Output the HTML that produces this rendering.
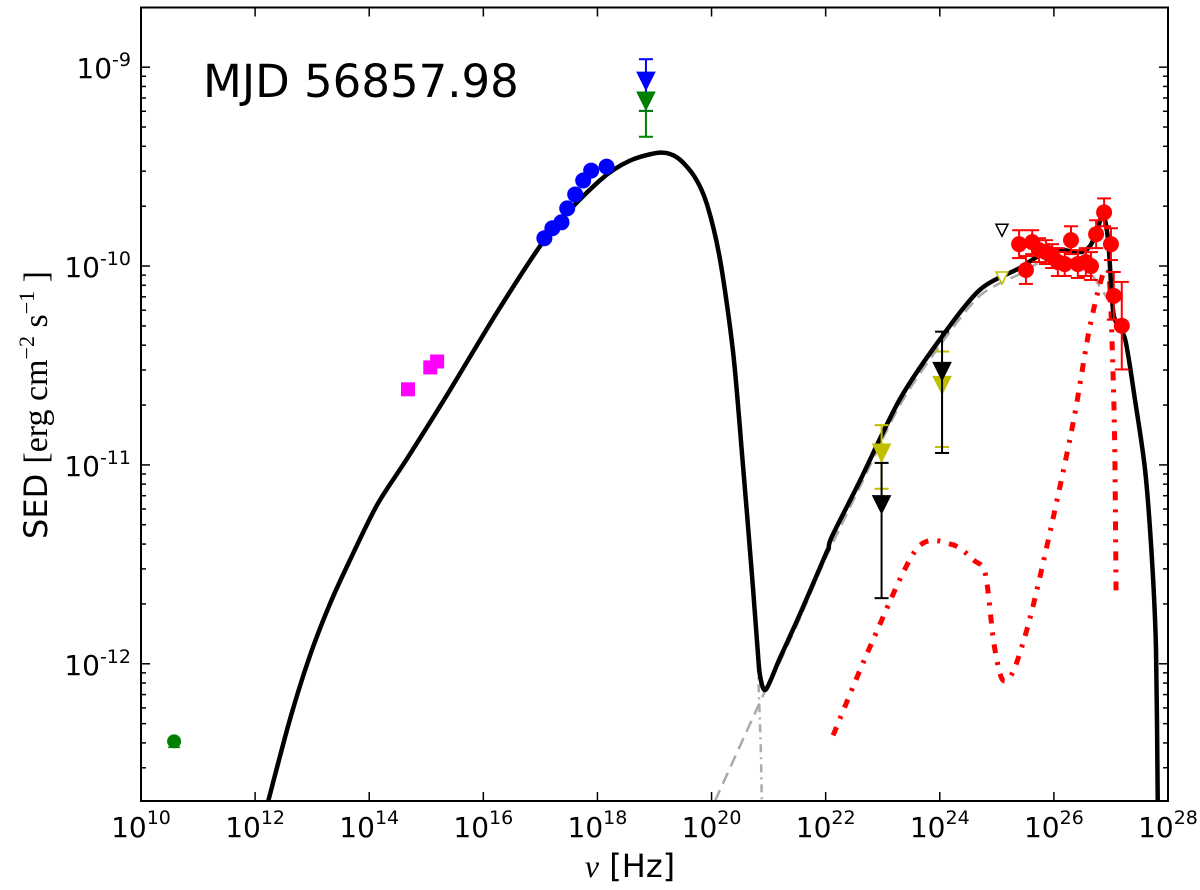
<!DOCTYPE html>
<html><head><meta charset="utf-8"><style>
body{margin:0;background:#fff}
svg{display:block;font-family:"DejaVu Sans","Liberation Sans",sans-serif}
</style></head><body>
<svg id="chart" width="1200" height="890" viewBox="0 0 1200 890"></svg>
<script>
// data in log10(nu [Hz]) and log10(SED)
const xTickExps=[10,12,14,16,18,20,22,24,26,28];
const yTickExps=[-12,-11,-10,-9];
const totalX=[12.23,12.61,12.96,13.31,13.66,14.14,14.66,15.36,16.29,17.17,18.04,18.57,19.10,19.40,19.70,19.92,20.15,20.38,20.55,20.71,20.80,20.85,20.95,21.20,21.55,22.00,22.05,22.11,22.60,23.30,24.00,24.70,25.40,25.93,26.46,26.63,26.75,26.86,26.95,27.02,27.07,27.25,27.42,27.60,27.72,27.79,27.82];
const totalY=[-12.69,-12.28,-11.96,-11.70,-11.48,-11.20,-10.97,-10.65,-10.21,-9.83,-9.57,-9.47,-9.43,-9.455,-9.55,-9.69,-9.97,-10.44,-11.00,-11.56,-11.90,-12.06,-12.13,-11.97,-11.75,-11.45,-11.42,-11.36,-11.08,-10.67,-10.37,-10.12,-10.01,-9.92,-9.93,-9.90,-9.83,-9.74,-9.87,-10.17,-10.27,-10.37,-10.67,-11.03,-11.48,-11.93,-12.69];
const sscX=[20.06,20.95,21.20,21.55,22.00,22.60,23.30,24.00,24.70,25.40,25.93,26.46,26.63,26.80,26.95];
const sscY=[-12.69,-12.13,-11.99,-11.77,-11.47,-11.11,-10.70,-10.40,-10.15,-10.04,-9.96,-9.98,-10.03,-10.10,-10.17];
const synCutX=[20.55,20.71,20.80,20.86,20.88];
const synCutY=[-11.00,-11.56,-11.95,-12.40,-12.69];
const ecX=[22.13,22.80,23.60,24.21,24.60,24.80,24.95,25.10,25.30,25.60,26.00,26.35,26.60,26.78,26.90,26.98,27.06,27.09];
const ecY=[-12.36,-11.90,-11.42,-11.40,-11.48,-11.55,-11.90,-12.08,-12.03,-11.75,-11.25,-10.77,-10.35,-10.12,-10.02,-10.10,-10.80,-11.66];
const blueX=[17.07,17.21,17.37,17.47,17.61,17.75,17.89,18.16];
const blueY=[-9.86,-9.81,-9.78,-9.71,-9.64,-9.57,-9.52,-9.50];
const magX=[14.68,15.07,15.19];
const magY=[-10.62,-10.51,-10.48];
const radioX=[10.58];const radioY=[-12.39];
const ulX=[18.85,18.85,22.98,22.98,24.04,24.04,25.09,25.09];
const ulY=[-9.07,-9.17,-10.94,-11.20,-10.60,-10.53,-9.82,-10.06];
const ulLo=[-9.22,-9.35,-11.12,-11.67,-10.91,-10.94,null,null];
const ulHi=[-8.96,-9.22,-10.80,-10.99,-10.43,-10.33,null,null];
const ulCol=["#0000ff","#008000","#bfbf00","#000","#bfbf00","#000","#000","#bfbf00"];
const ulOpen=[0,0,0,0,0,0,1,1];
const redX=[25.39,25.51,25.62,25.74,25.86,25.97,26.07,26.19,26.30,26.42,26.56,26.65,26.74,26.88,27.00,27.05,27.19];
const redY=[-9.89,-10.02,-9.88,-9.92,-9.93,-9.95,-9.98,-9.99,-9.87,-9.99,-9.98,-10.00,-9.84,-9.73,-9.89,-10.15,-10.30];
const redErr=[0.07,0.07,0.06,0.06,0.06,0.06,0.07,0.06,0.07,0.07,0.07,0.07,0.07,0.07,0.08,0.12,0.22];

const L=141,R=1168,T=7.5,B=801;
const xmin=10,xmax=28,ymin=-12.69,ymax=-8.70;
const sx=v=>L+(v-xmin)/(xmax-xmin)*(R-L);
const sy=v=>B-(v-ymin)/(ymax-ymin)*(B-T);
const svg=document.getElementById('chart');
const NS='http://www.w3.org/2000/svg';
function mk(tag,at,parent){const e=document.createElementNS(NS,tag);for(const k in at)e.setAttribute(k,at[k]);(parent||svg).appendChild(e);return e;}
function path(xs,ys){let d='';const p=xs.map((x,i)=>[sx(x),sy(ys[i])]);const k=7;
 for(let i=0;i<p.length;i++){if(i==0){d+='M'+p[0][0]+','+p[0][1];continue;}
  const p0=p[Math.max(0,i-2)],p1=p[i-1],p2=p[i],p3=p[Math.min(p.length-1,i+1)];
  const c1=[p1[0]+(p2[0]-p0[0])/k,p1[1]+(p2[1]-p0[1])/k],c2=[p2[0]-(p3[0]-p1[0])/k,p2[1]-(p3[1]-p1[1])/k];
  d+=`C${c1[0]},${c1[1]} ${c2[0]},${c2[1]} ${p2[0]},${p2[1]}`;}return d;}
const defs=mk('defs',{});const cp=mk('clipPath',{id:'clip'},defs);mk('rect',{x:L,y:T,width:R-L,height:B-T},cp);
const g=mk('g',{'clip-path':'url(#clip)'});

let e;
e=mk('path',{d:path(sscX,sscY),fill:'none',stroke:'#aaa','stroke-width':2.5,'stroke-dasharray':'12,7'},g);

e=mk('path',{d:path(synCutX,synCutY),fill:'none',stroke:'#aaa','stroke-width':2.5,'stroke-dasharray':'8,5,2,5'},g);

e=mk('path',{d:path(ecX,ecY),fill:'none',stroke:'#f00','stroke-width':5,'stroke-dasharray':'9,9,3,9'},g);

e=mk('path',{d:path(totalX,totalY),fill:'none',stroke:'#000','stroke-width':4.5,'stroke-linejoin':'round'},g);

function circ(x,y,r,c,name){const el=mk('circle',{cx:sx(x),cy:sy(y),r:r,fill:c},g);}
blueX.forEach((x,i)=>circ(x,blueY[i],8,'#0000ff','xray-point'));
magX.forEach((x,i)=>{const el=mk('rect',{x:sx(x)-7,y:sy(magY[i])-7,width:14,height:14,fill:'#ff00ff'},g);});
radioX.forEach((x,i)=>{mk('line',{x1:sx(x)-6,x2:sx(x)+6,y1:sy(radioY[i])+6,y2:sy(radioY[i])+6,stroke:'#008000','stroke-width':1.5},g);circ(x,radioY[i],7,'#008000','radio-point');});
function err(x,lo,hi,c){const X=sx(x);mk('line',{x1:X,x2:X,y1:sy(lo),y2:sy(hi),stroke:c,'stroke-width':2},g);
 [lo,hi].forEach(v=>mk('line',{x1:X-7,x2:X+7,y1:sy(v),y2:sy(v),stroke:c,'stroke-width':2},g));}
ulX.forEach((x,i)=>{if(ulLo[i]!==null)err(x,ulLo[i],ulHi[i],ulCol[i]);
 const X=sx(x),Y=sy(ulY[i]),s=ulOpen[i]?6:9;
 const el=mk('polygon',{points:`${X-s},${Y-s} ${X+s},${Y-s} ${X},${Y+s}`,fill:ulOpen[i]?'#fff':ulCol[i],stroke:ulCol[i],'stroke-width':ulOpen[i]?1.5:1},g);
 });
redX.forEach((x,i)=>{err(x,redY[i]-redErr[i],redY[i]+redErr[i],'#f00');circ(x,redY[i],8,'#f00','gamma-point');});
// axes
e=mk('rect',{x:L,y:T,width:R-L,height:B-T,fill:'none',stroke:'#000','stroke-width':2});

xTickExps.forEach(v=>{const X=sx(v);mk('line',{x1:X,x2:X,y1:B,y2:B-9,stroke:'#000','stroke-width':1.5});mk('line',{x1:X,x2:X,y1:T,y2:T+9,stroke:'#000','stroke-width':1.5});
 const t=mk('text',{x:X,y:B+36,'font-size':28,'text-anchor':'middle'});
 t.innerHTML=`10<tspan dy="-13" font-size="19">${v}</tspan>`;});
for(let d=-13;d<=-9;d++){for(let m=1;m<=9;m++){const v=d+Math.log10(m);if(v<ymin||v>ymax)continue;const Y=sy(v),len=m==1?9:5;
 mk('line',{x1:L,x2:L+len,y1:Y,y2:Y,stroke:'#000','stroke-width':1.5});mk('line',{x1:R,x2:R-len,y1:Y,y2:Y,stroke:'#000','stroke-width':1.5});}}
yTickExps.forEach(v=>{const t=mk('text',{x:L-10,y:sy(v)+11,'font-size':28,'text-anchor':'end'});
 t.innerHTML=`10<tspan dy="-12" font-size="19">${v}</tspan>`;});
</script>
<svg style="position:absolute;left:0;top:0" width="1200" height="890">
<text x="203" y="97" font-size="45" font-family="DejaVu Sans, sans-serif">MJD 56857.98</text>
<text x="630" y="877" font-size="32" text-anchor="middle" font-family="DejaVu Sans, sans-serif"><tspan font-style="italic" font-family="Liberation Serif, serif">ν</tspan> [Hz]</text>
<text transform="translate(47,405) rotate(-90)" font-size="32" text-anchor="middle" font-family="DejaVu Sans, sans-serif">SED <tspan font-family="Liberation Serif, serif" font-size="34">[erg cm<tspan dy="-13" font-size="22">−2</tspan><tspan dy="13">  s</tspan><tspan dy="-13" font-size="22">−1</tspan><tspan dy="13"> ]</tspan></tspan></text>
</svg>
</body></html>
